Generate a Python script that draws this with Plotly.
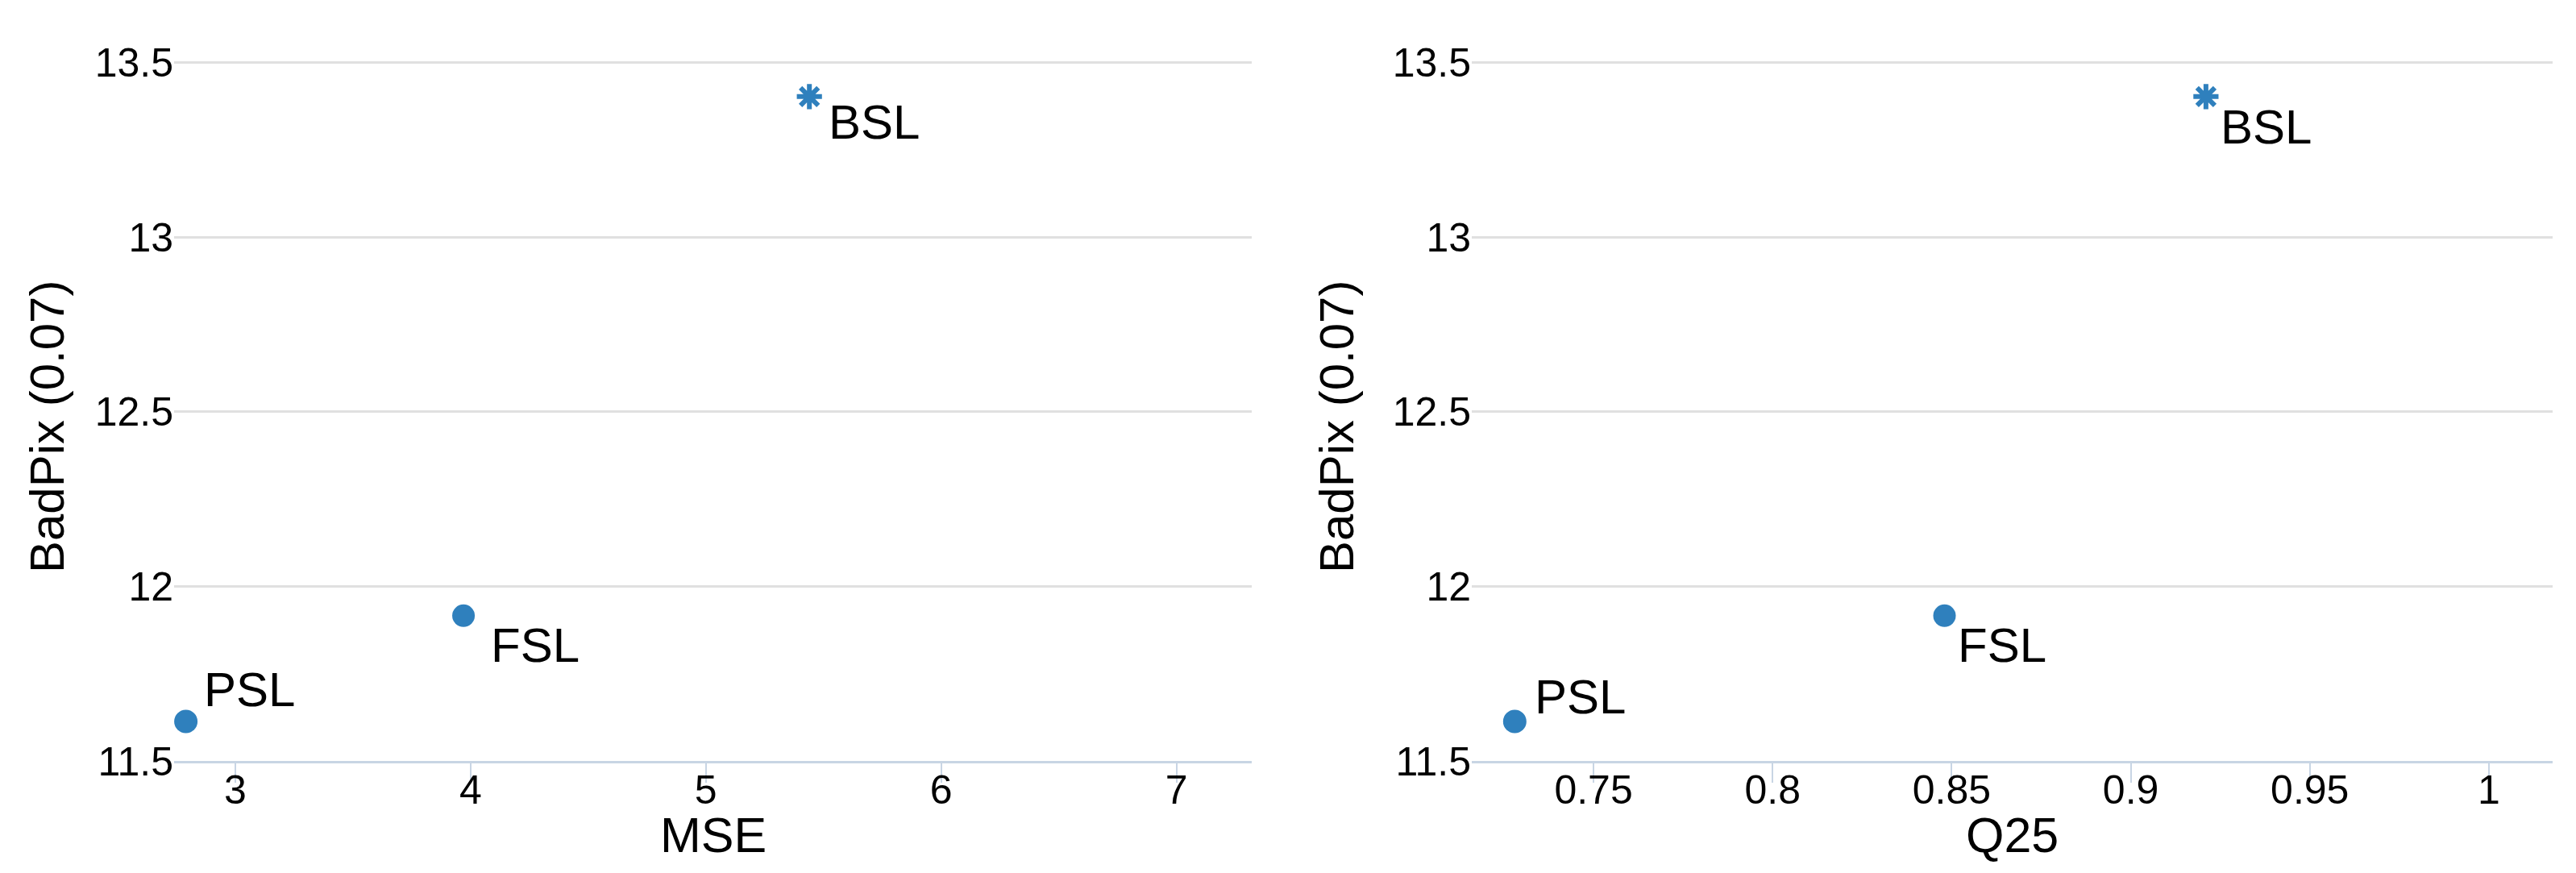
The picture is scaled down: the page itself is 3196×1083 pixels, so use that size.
import plotly.graph_objects as go

methods = ["PSL", "FSL", "BSL"]
mse = [2.79, 3.97, 5.44]
q25 = [0.728, 0.848, 0.921]
badpix = [11.613, 11.916, 13.403]

mse_ticks = [3, 4, 5, 6, 7]
q25_ticks = [0.75, 0.8, 0.85, 0.9, 0.95, 1]
y_ticks = [11.5, 12, 12.5, 13, 13.5]

blue = "#2f80bd"
font = "Arial, Liberation Sans, sans-serif"
symbols = ["circle", "circle", "asterisk-open"]
line_w = [0, 0, 6]

# label offsets in px (xshift, yshift) per panel
offs_left = [(20, 40), (32, -37), (22, -32)]
offs_right = [(23, 31), (14, -37), (16, -38)]

fig = go.Figure()

for xs, xa, ya in [(mse, "x", "y"), (q25, "x2", "y2")]:
    fig.add_trace(go.Scatter(
        x=xs, y=badpix, mode="markers", xaxis=xa, yaxis=ya,
        marker=dict(color=blue, size=[29, 28, 26], symbol=symbols, opacity=1,
                    line=dict(color=blue, width=line_w)),
        showlegend=False, hoverinfo="skip",
    ))

annotations = []
for xs, xr, yr, offs in [(mse, "x", "y", offs_left), (q25, "x2", "y2", offs_right)]:
    for m, xv, yv, (dx, dy) in zip(methods, xs, badpix, offs):
        annotations.append(dict(
            x=xv, y=yv, xref=xr, yref=yr, text=m, showarrow=False,
            xanchor="left", yanchor="middle", xshift=dx, yshift=dy,
            font=dict(size=60, color="black", family=font),
        ))

# y axis titles, placed like the original (not centred on the plot)
for xp in [50 / 3196, 1650 / 3196]:
    annotations.append(dict(
        x=xp, y=0.453, xref="paper", yref="paper", text="BadPix (0.07)",
        textangle=-90, showarrow=False, xanchor="center", yanchor="middle",
        font=dict(size=60, color="black", family=font),
    ))

# x axis titles
for xp, txt in [((208 + 1545) / 2 / 3196, "MSE"), ((1818 + 3159) / 2 / 3196, "Q25")]:
    annotations.append(dict(
        x=xp, y=-92 / 916, xref="paper", yref="paper", text=txt,
        showarrow=False, xanchor="center", yanchor="middle",
        font=dict(size=61, color="black", family=font),
    ))

xaxis_style = dict(
    showgrid=False, zeroline=False, showline=True, linecolor="#c8d5e4", linewidth=3,
    ticks="outside", ticklen=24, tickwidth=2, tickcolor="#c8d5e4",
    ticklabelstandoff=-34,
    tickfont=dict(size=50, color="black", family=font),
)
yaxis_style = dict(
    showgrid=True, gridcolor="#e0e0e0", gridwidth=2.5, zeroline=False, showline=False,
    range=[11.5, 13.615], tickvals=y_ticks, ticktext=[f"{v:g}" for v in y_ticks],
    tickfont=dict(size=50, color="black", family=font),
)

fig.update_layout(
    width=3196, height=1083,
    margin=dict(l=0, r=0, t=20, b=147),
    plot_bgcolor="white", paper_bgcolor="white",
    xaxis=dict(domain=[208 / 3196, 1545 / 3196], range=[2.74, 7.32],
               tickvals=mse_ticks, **xaxis_style),
    xaxis2=dict(domain=[1818 / 3196, 3159 / 3196], range=[0.716, 1.0178],
                tickvals=q25_ticks, ticktext=[f"{v:g}" for v in q25_ticks],
                anchor="y2", **xaxis_style),
    yaxis=dict(anchor="x", **yaxis_style),
    yaxis2=dict(anchor="x2", **yaxis_style),
    annotations=annotations,
)

fig.write_html("out.html")
